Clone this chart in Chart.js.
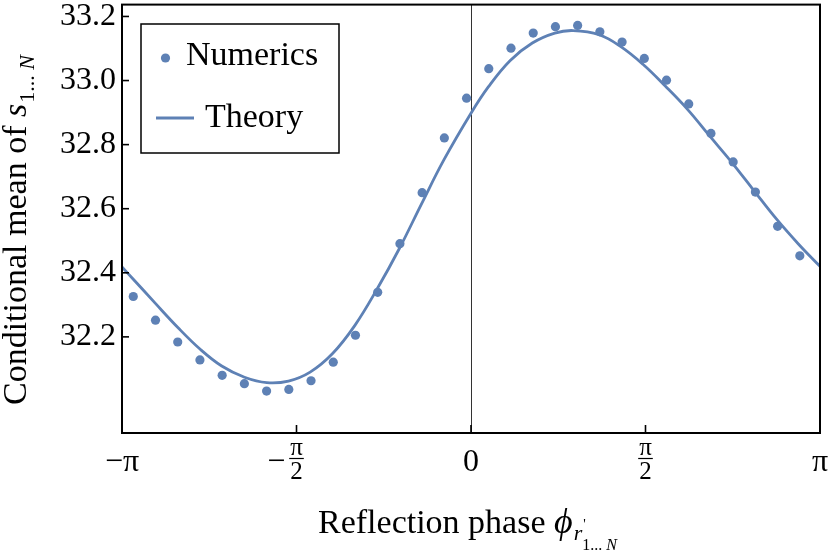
<!DOCTYPE html>
<html><head><meta charset="utf-8">
<script src="https://cdn.jsdelivr.net/npm/chart.js@4/dist/chart.umd.min.js"></script>
<style>html,body{margin:0;padding:0;background:#fff}#wrap{width:830px;height:553px}</style>
</head><body><div id="wrap"><canvas id="c" width="830" height="553"></canvas></div>
<script>
// ---- data ----
const numericsX = [-3.04, -2.84, -2.64, -2.44, -2.24, -2.04, -1.84, -1.64, -1.44, -1.24, -1.04, -0.84, -0.64, -0.44, -0.24, -0.04,
  0.16, 0.36, 0.56, 0.76, 0.96, 1.16, 1.36, 1.56, 1.76, 1.96, 2.16, 2.36, 2.56, 2.76, 2.96];
const numericsY = [32.326, 32.252, 32.184, 32.128, 32.080, 32.054, 32.031, 32.036, 32.063, 32.121, 32.205, 32.339, 32.491, 32.650, 32.821, 32.945,
  33.037, 33.101, 33.148, 33.168, 33.172, 33.152, 33.120, 33.069, 33.001, 32.927, 32.835, 32.746, 32.652, 32.545, 32.453];
const theoryX = [-3.1416, -3.040, -2.845, -2.641, -2.440, -2.244, -2.039, -1.838, -1.643, -1.448, -1.246, -1.045, -0.844, -0.646, -0.444, -0.243,
  0, 0.156, 0.351, 0.552, 0.754, 0.919, 1.154, 1.352, 1.550, 1.751, 1.949, 2.148, 2.349, 2.548, 2.749, 2.947, 3.1416];
const theoryY = [32.418, 32.380, 32.306, 32.230, 32.162, 32.109, 32.074, 32.057, 32.062, 32.090, 32.148, 32.236, 32.350, 32.475, 32.616, 32.753,
  32.898, 32.980, 33.062, 33.117, 33.148, 33.156, 33.143, 33.105, 33.050, 32.982, 32.910, 32.827, 32.744, 32.656, 32.568, 32.490, 32.420];
const yTicks = [32.2, 32.4, 32.6, 32.8, 33.0, 33.2];
const xTickValues = [-Math.PI, -Math.PI / 2, 0, Math.PI / 2, Math.PI];
const xTickLabels = ['−π', '−π/2', '0', 'π/2', 'π'];
const seriesNames = ['Numerics', 'Theory'];

const FONT = '"Liberation Serif", "Times New Roman", serif';
const BLUE = '#5e81b5';

const decor = {
  id: 'decor',
  beforeDatasetsDraw(chart) {
    const {ctx, chartArea: a, scales: {x}} = chart;
    ctx.save();
    ctx.strokeStyle = '#333';
    ctx.lineWidth = 1;
    const px = Math.round(x.getPixelForValue(0)) + 0.5;
    ctx.beginPath(); ctx.moveTo(px, a.top); ctx.lineTo(px, a.bottom); ctx.stroke();
    ctx.restore();
  },
  afterDatasetsDraw(chart) {
    const {ctx, chartArea: a, scales: {x, y}} = chart;
    ctx.save();
    // frame
    ctx.strokeStyle = '#000';
    ctx.lineWidth = 2;
    ctx.strokeRect(a.left, a.top, a.right - a.left, a.bottom - a.top);
    // inward ticks
    ctx.lineWidth = 1.6;
    yTicks.forEach(v => {
      const py = y.getPixelForValue(v);
      ctx.beginPath(); ctx.moveTo(a.left, py); ctx.lineTo(a.left + 7, py); ctx.stroke();
    });
    xTickValues.forEach(v => {
      const px = x.getPixelForValue(v);
      ctx.beginPath(); ctx.moveTo(px, a.bottom); ctx.lineTo(px, a.bottom - 8); ctx.stroke();
    });
    // x tick labels
    ctx.fillStyle = '#000';
    ctx.textBaseline = 'alphabetic';
    const base = 471;
    xTickLabels.forEach((lab, i) => {
      const px = x.getPixelForValue(xTickValues[i]);
      if (lab.includes('/')) {
        const neg = lab.startsWith('−');
        const body = neg ? lab.slice(1) : lab;
        const [num, den] = body.split('/');
        ctx.font = '25px ' + FONT;
        ctx.textAlign = 'center';
        ctx.fillText(num, px, 455);
        ctx.fillText(den, px, 479);
        const w = ctx.measureText(num).width + 2;
        ctx.lineWidth = 1.2;
        ctx.beginPath(); ctx.moveTo(px - w / 2, 458.5); ctx.lineTo(px + w / 2, 458.5); ctx.stroke();
        if (neg) {
          ctx.font = '32px ' + FONT;
          ctx.textAlign = 'right';
          ctx.fillText('−', px - w / 2 - 4, base);
        }
      } else {
        ctx.font = '32px ' + FONT;
        ctx.textAlign = 'center';
        ctx.fillText(lab, px, base);
      }
    });
    // x axis title
    ctx.textAlign = 'left';
    let cx = 318;
    const tb = 533;
    ctx.font = '34px ' + FONT;
    const t1 = 'Reflection phase ';
    ctx.fillText(t1, cx, tb); cx += ctx.measureText(t1).width;
    ctx.font = 'italic 36px ' + FONT;
    ctx.fillText('ϕ', cx, tb); cx += ctx.measureText('ϕ').width + 1;
    ctx.font = 'italic 22px ' + FONT;
    ctx.fillText('r', cx, tb + 7); const rw = ctx.measureText('r').width;
    ctx.font = '14px ' + FONT;
    ctx.fillText("'", cx + rw + 1, tb - 4);
    ctx.font = '16px ' + FONT;
    ctx.fillText('1... ', cx + rw, tb + 17);
    const sw = ctx.measureText('1... ').width;
    ctx.font = 'italic 16px ' + FONT;
    ctx.fillText('N', cx + rw + sw, tb + 17);
    // y axis title
    ctx.save();
    ctx.translate(26, 405);
    ctx.rotate(-Math.PI / 2);
    let ly = 0;
    ctx.font = '34px ' + FONT;
    const t2 = 'Conditional mean of ';
    ctx.fillText(t2, 0, 0); ly = ctx.measureText(t2).width;
    ctx.font = 'italic 34px ' + FONT;
    ctx.fillText('s', ly, 0); ly += ctx.measureText('s').width + 1;
    ctx.font = '22px ' + FONT;
    ctx.fillText('1... ', ly, 8); ly += ctx.measureText('1... ').width;
    ctx.font = 'italic 22px ' + FONT;
    ctx.fillText('N', ly, 8);
    ctx.restore();
    // legend
    ctx.lineWidth = 1.5;
    ctx.strokeStyle = '#000';
    ctx.strokeRect(141, 24, 198, 129);
    ctx.fillStyle = BLUE;
    ctx.beginPath(); ctx.arc(165.5, 58, 4.6, 0, Math.PI * 2); ctx.fill();
    ctx.strokeStyle = BLUE; ctx.lineWidth = 3;
    ctx.beginPath(); ctx.moveTo(156, 118); ctx.lineTo(194, 118); ctx.stroke();
    ctx.fillStyle = '#000';
    ctx.font = '34px ' + FONT;
    ctx.fillText(chart.data.datasets[0].label, 186, 65);
    ctx.fillText(chart.data.datasets[1].label, 205, 127);
    ctx.restore();
  }
};

new Chart(document.getElementById('c'), {
  type: 'scatter',
  data: {
    datasets: [
      {
        label: seriesNames[0],
        data: numericsX.map((v, i) => ({x: v, y: numericsY[i]})),
        backgroundColor: BLUE, borderColor: BLUE,
        pointRadius: 4.6, pointBorderWidth: 0, showLine: false, order: 0
      },
      {
        label: seriesNames[1],
        type: 'line',
        data: theoryX.map((v, i) => ({x: v, y: theoryY[i]})),
        borderColor: BLUE, borderWidth: 2.8, pointRadius: 0, fill: false,
        tension: 0.4, order: 1
      }
    ]
  },
  options: {
    responsive: false, animation: false, devicePixelRatio: 1,
    layout: {padding: {top: 3, right: 10, left: 0, bottom: 0}},
    plugins: {legend: {display: false}, tooltip: {enabled: false}},
    scales: {
      x: {
        type: 'linear', min: -Math.PI, max: Math.PI,
        grid: {display: false, drawTicks: false}, border: {display: false},
        ticks: {display: false},
        afterFit(s) { s.height = 120; s.paddingLeft = 0; s.paddingRight = 0; }
      },
      y: {
        type: 'linear', min: 31.9, max: 33.237,
        grid: {display: false, drawTicks: false}, border: {display: false},
        afterBuildTicks(s) { s.ticks = yTicks.map(v => ({value: v})); },
        ticks: {
          padding: 6, color: '#000',
          font: {family: FONT, size: 32},
          callback: v => Number(v).toFixed(1)
        },
        afterFit(s) { s.width = 122; s.paddingTop = 0; s.paddingBottom = 0; }
      }
    }
  },
  plugins: [decor]
});
</script>
</body></html>
